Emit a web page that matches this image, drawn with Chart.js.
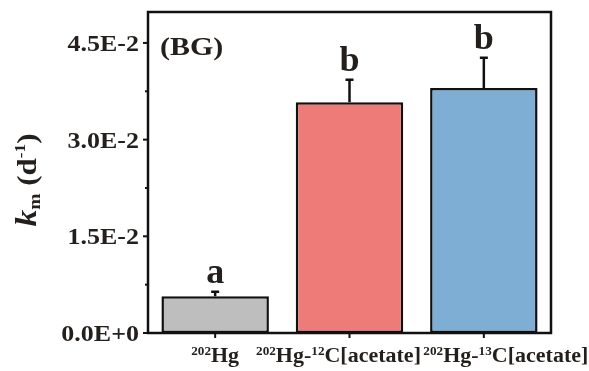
<!DOCTYPE html>
<html>
<head>
<meta charset="utf-8">
<script src="https://cdn.jsdelivr.net/npm/chart.js@4/dist/chart.umd.min.js"></script>
<style>
  html, body { margin: 0; padding: 0; background: #fff; }
  #wrap { width: 589px; height: 371px; }
</style>
</head>
<body>
<div id="wrap"><canvas id="c" width="589" height="371"></canvas></div>
<script>
// Treatments, split into [text, isSuperscript] runs for the axis labels
const categories = ['202Hg', '202Hg-12C[acetate]', '202Hg-13C[acetate]'];
const labelParts = [
  [['202', true], ['Hg', false]],
  [['202', true], ['Hg-', false], ['12', true], ['C[acetate]', false]],
  [['202', true], ['Hg-', false], ['13', true], ['C[acetate]', false]]
];
const kmValues = [0.0057, 0.0358, 0.0380];
const kmErrors = [0.0007, 0.0035, 0.0047];
const groupLetters = ['a', 'b', 'b'];
const barColors = ['#bebebe', '#ee7b78', '#7eaed4'];
const yTicks = [0, 0.015, 0.03, 0.045];
const yMinorTicks = [0.0075, 0.0225, 0.0375];
const panelTag = '(BG)';

const SERIF = '"Liberation Serif", "Times New Roman", serif';
const INK = '#231f1c';
const WIDE = 1.13;               // horizontal stretch of the serif lettering
const labelShift = [0, -11, 22]; // keeps the long category names apart

function sci(v) {
  if (v === 0) return '0.0E+0';
  const e = Math.floor(Math.log10(Math.abs(v)));
  const m = v / Math.pow(10, e);
  return m.toFixed(1) + 'E' + (e < 0 ? '-' : '+') + Math.abs(e);
}

// draw text stretched horizontally by sx; align: 'left' | 'right' | 'center'
function wideText(ctx, text, x, y, font, sx, align) {
  ctx.save();
  ctx.font = font;
  ctx.textAlign = 'left';
  const w = ctx.measureText(text).width * sx;
  let left = x;
  if (align === 'right') left = x - w;
  else if (align === 'center') left = x - w / 2;
  ctx.translate(left, y);
  ctx.scale(sx, 1);
  ctx.fillText(text, 0, 0);
  ctx.restore();
  return w;
}

// total stretched width of a sequence of runs
function runsWidth(ctx, runs, sx) {
  let w = 0;
  runs.forEach(r => { ctx.font = r.font; w += ctx.measureText(r.text).width * sx; });
  return w;
}

const decorations = {
  id: 'decorations',
  afterDatasetsDraw(chart) {
    const ctx = chart.ctx;
    const area = chart.chartArea;
    const x = chart.scales.x, y = chart.scales.y;
    ctx.save();
    ctx.fillStyle = INK;
    ctx.textBaseline = 'alphabetic';

    // upper error whiskers and significance letters
    const meta = chart.getDatasetMeta(0);
    ctx.strokeStyle = '#111';
    ctx.lineWidth = 2.5;
    meta.data.forEach((bar, i) => {
      const cx = bar.x;
      const yTop = y.getPixelForValue(kmValues[i] + kmErrors[i]);
      const yBar = y.getPixelForValue(kmValues[i]);
      ctx.beginPath();
      ctx.moveTo(cx, yBar);
      ctx.lineTo(cx, yTop);
      ctx.moveTo(cx - 4, yTop);
      ctx.lineTo(cx + 4, yTop);
      ctx.stroke();
      wideText(ctx, groupLetters[i], cx, yTop - 9, 'bold 36px ' + SERIF, 1, 'center');
    });

    // frame
    ctx.lineWidth = 2.5;
    ctx.strokeRect(area.left, area.top, area.right - area.left, area.bottom - area.top);

    // y ticks and labels
    ctx.lineWidth = 2;
    yTicks.forEach(v => {
      const py = y.getPixelForValue(v);
      ctx.beginPath(); ctx.moveTo(area.left - 5, py); ctx.lineTo(area.left, py); ctx.stroke();
      wideText(ctx, sci(v), area.left - 9, py + 8, 'bold 23px ' + SERIF, WIDE, 'right');
    });
    yMinorTicks.forEach(v => {
      const py = y.getPixelForValue(v);
      ctx.beginPath(); ctx.moveTo(area.left - 3, py); ctx.lineTo(area.left, py); ctx.stroke();
    });

    // x ticks and category labels with superscripts
    const mainFont = 'bold 20px ' + SERIF;
    const supFont = 'bold 12px ' + SERIF;
    categories.forEach((c, i) => {
      const px = x.getPixelForValue(i);
      ctx.beginPath(); ctx.moveTo(px, area.bottom); ctx.lineTo(px, area.bottom + 5); ctx.stroke();
      const runs = labelParts[i].map(([t, sup]) => ({ text: t, font: sup ? supFont : mainFont, sup }));
      const w = runsWidth(ctx, runs, 1.1);
      let cx = px + labelShift[i] - w / 2;
      runs.forEach(r => {
        cx += wideText(ctx, r.text, cx, r.sup ? 355 : 362, r.font, 1.1, 'left');
      });
    });

    // panel tag
    wideText(ctx, panelTag, 160, 55, 'bold 25px ' + SERIF, 1.2, 'left');

    // y axis title: k_m (d^-1), reading bottom to top
    ctx.save();
    ctx.translate(36, 180);
    ctx.rotate(-Math.PI / 2);
    const segs = [
      { text: 'k', font: 'italic bold 29px ' + SERIF, dy: 0 },
      { text: 'm', font: 'bold 17px ' + SERIF, dy: 4 },
      { text: ' (d', font: 'bold 27px ' + SERIF, dy: 0 },
      { text: '-1', font: 'bold 15px ' + SERIF, dy: -11 },
      { text: ')', font: 'bold 27px ' + SERIF, dy: 0 }
    ];
    const tw = runsWidth(ctx, segs, 1.15);
    let tx = -tw / 2;
    segs.forEach(s => {
      tx += wideText(ctx, s.text, tx, s.dy, s.font, 1.15, 'left');
    });
    ctx.restore();

    ctx.restore();
  }
};

new Chart(document.getElementById('c'), {
  type: 'bar',
  data: {
    labels: categories,
    datasets: [{
      data: kmValues,
      backgroundColor: barColors,
      borderColor: '#111',
      borderWidth: 2.5,
      borderSkipped: false,
      barPercentage: 0.8,
      categoryPercentage: 1.0
    }]
  },
  options: {
    responsive: false,
    animation: false,
    devicePixelRatio: 1,
    layout: { padding: { top: 12, right: 38, left: 0, bottom: 0 } },
    plugins: { legend: { display: false }, tooltip: { enabled: false } },
    scales: {
      x: {
        grid: { display: false },
        border: { display: false },
        ticks: { display: false },
        afterFit(s) { s.height = 38; }
      },
      y: {
        min: 0,
        max: 0.0498,
        grid: { display: false },
        border: { display: false },
        ticks: { display: false },
        afterFit(s) { s.width = 148; }
      }
    }
  },
  plugins: [decorations]
});
</script>
</body>
</html>
